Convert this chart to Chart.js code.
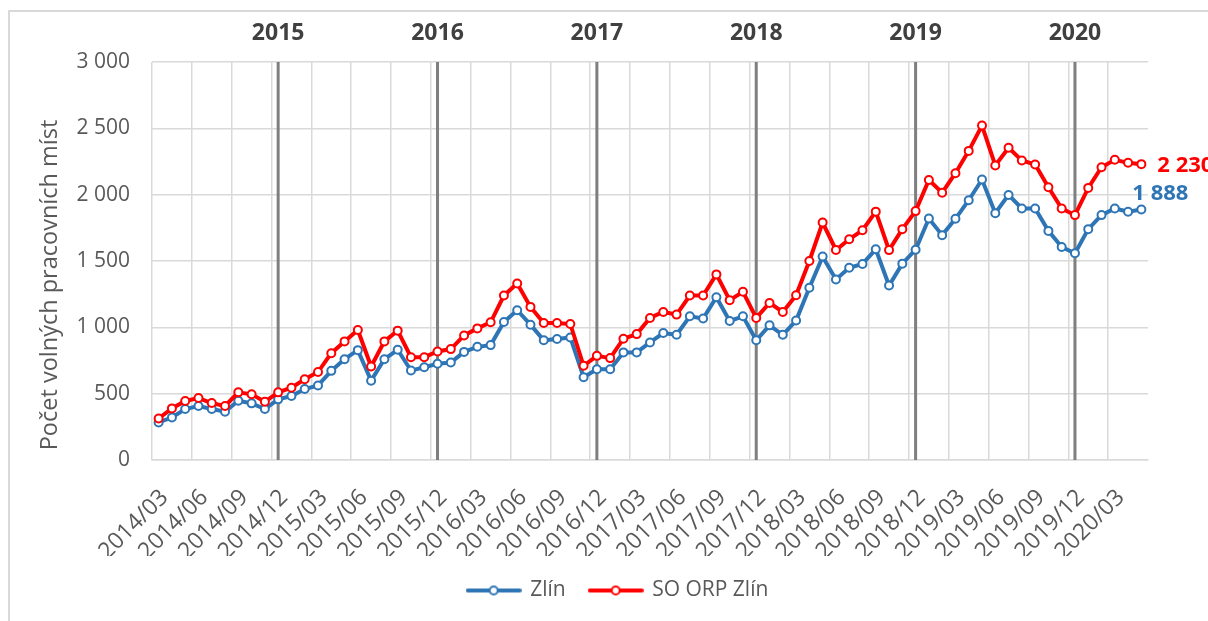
<!DOCTYPE html>
<html lang="cs">
<head>
<meta charset="utf-8">
<title>Počet volných pracovních míst</title>
<script src="https://cdn.jsdelivr.net/npm/chart.js@4.4.1/dist/chart.umd.min.js"></script>
<style>
  html, body { margin: 0; padding: 0; background: #fff; }
  #graf { display: block; }
</style>
</head>
<body>
<canvas id="graf" width="1208" height="621"></canvas>
<script>
// měsíce 2014/03 – 2020/05
const mesice = [
  '2014/03','2014/04','2014/05','2014/06','2014/07','2014/08','2014/09','2014/10','2014/11','2014/12',
  '2015/01','2015/02','2015/03','2015/04','2015/05','2015/06','2015/07','2015/08','2015/09','2015/10','2015/11','2015/12',
  '2016/01','2016/02','2016/03','2016/04','2016/05','2016/06','2016/07','2016/08','2016/09','2016/10','2016/11','2016/12',
  '2017/01','2017/02','2017/03','2017/04','2017/05','2017/06','2017/07','2017/08','2017/09','2017/10','2017/11','2017/12',
  '2018/01','2018/02','2018/03','2018/04','2018/05','2018/06','2018/07','2018/08','2018/09','2018/10','2018/11','2018/12',
  '2019/01','2019/02','2019/03','2019/04','2019/05','2019/06','2019/07','2019/08','2019/09','2019/10','2019/11','2019/12',
  '2020/01','2020/02','2020/03','2020/04','2020/05'
];

const zlin = [
  283, 320, 384, 407, 384, 364, 447, 427, 384, 457,
  482, 535, 562, 672, 760, 828, 598, 760, 831, 674, 699, 725,
  735, 815, 853, 866, 1040, 1129, 1020, 902, 912, 924, 624, 684,
  684, 811, 811, 886, 957, 944, 1083, 1066, 1227, 1048, 1083, 902,
  1015, 944, 1051, 1298, 1533, 1361, 1449, 1478, 1588, 1315, 1480, 1585,
  1820, 1695, 1818, 1958, 2114, 1860, 1998, 1896, 1896, 1727, 1606, 1558,
  1740, 1846, 1896, 1871, 1888
];

const soOrpZlin = [
  313, 389, 445, 467, 429, 407, 510, 495, 439, 510,
  545, 609, 663, 805, 894, 980, 705, 894, 975, 775, 775, 818,
  836, 939, 992, 1038, 1240, 1331, 1154, 1033, 1033, 1025, 710, 785,
  768, 914, 949, 1071, 1116, 1096, 1240, 1240, 1399, 1205, 1268, 1071,
  1184, 1116, 1242, 1500, 1790, 1583, 1664, 1732, 1872, 1582, 1740, 1876,
  2111, 2015, 2162, 2330, 2521, 2220, 2354, 2258, 2227, 2056, 1896, 1846,
  2051, 2207, 2263, 2240, 2230
];

// svislé čáry na přelomu roku a popisky let nad nimi
const predelMesice = ['2014/12', '2015/12', '2016/12', '2017/12', '2018/12', '2019/12'];
const roky = ['2015', '2016', '2017', '2018', '2019', '2020'];

const nazevOsyY = 'Počet volných pracovních míst';

const MODRA = '#2E75B6';
const CERVENA = '#FF0000';
const SEDA_TEXT = '#595959';
const MRIZKA = '#D9D9D9';

Chart.defaults.font.family = "'Open Sans', 'Noto Sans', sans-serif";
Chart.defaults.color = SEDA_TEXT;

const tisice = v => String(v).replace(/\B(?=(\d{3})+(?!\d))/g, ' ');

// symbol do legendy: čára s kolečkem uprostřed
function znacka(barva) {
  const c = document.createElement('canvas');
  c.width = 56; c.height = 14;
  const g = c.getContext('2d');
  g.strokeStyle = barva;
  g.lineWidth = 4;
  g.lineCap = 'round';
  g.beginPath(); g.moveTo(2, 7); g.lineTo(54, 7); g.stroke();
  g.fillStyle = '#fff';
  g.lineWidth = 2;
  g.beginPath(); g.arc(28, 7, 4, 0, Math.PI * 2); g.fill(); g.stroke();
  return c;
}

const ramecek = {
  id: 'ramecek',
  beforeDraw(chart) {
    const g = chart.ctx;
    g.save();
    g.fillStyle = '#fff';
    g.fillRect(0, 0, chart.width, chart.height);
    g.strokeStyle = MRIZKA;
    g.lineWidth = 2;
    g.beginPath();
    g.moveTo(9, chart.height + 2);
    g.lineTo(9, 11);
    g.lineTo(chart.width + 2, 11);
    g.stroke();
    g.restore();
  }
};

// legenda posunutá ke středu rámečku
const posunLegendy = {
  id: 'posunLegendy',
  afterLayout(chart) {
    chart.legend.left += 44;
    chart.legend.right += 44;
  }
};

const popisky = {
  id: 'popisky',
  afterDraw(chart) {
    const g = chart.ctx;
    const x = chart.scales.x;
    const y = chart.scales.y;
    g.save();
    // název osy y, trochu pod středem osy
    g.font = "23.5px 'Open Sans', sans-serif";
    g.fillStyle = SEDA_TEXT;
    g.textAlign = 'center';
    g.textBaseline = 'middle';
    g.translate(50, (y.top + y.bottom) / 2 + 24);
    g.rotate(-Math.PI / 2);
    g.fillText(nazevOsyY, 0, 0);
    g.setTransform(1, 0, 0, 1, 0, 0);
    // roky nad grafem
    g.font = "bold 23px 'Open Sans', sans-serif";
    g.fillStyle = '#404040';
    predelMesice.forEach((m, i) => {
      g.fillText(roky[i], x.getPixelForValue(mesice.indexOf(m)), 33);
    });
    // hodnoty posledního měsíce
    const posl = mesice.length - 1;
    const bCerv = chart.getDatasetMeta(1).data[posl];
    const bModr = chart.getDatasetMeta(0).data[posl];
    g.font = "bold 22px 'Open Sans', sans-serif";
    g.textAlign = 'left';
    g.fillStyle = CERVENA;
    g.fillText(tisice(soOrpZlin[posl]), bCerv.x + 16, bCerv.y + 2);
    g.fillStyle = MODRA;
    g.fillText(tisice(zlin[posl]), bModr.x - 9, bModr.y - 16);
    g.restore();
  }
};

const predely = predelMesice.map(m => ({
  type: 'line',
  data: [{ x: m, y: 0 }, { x: m, y: 3000 }],
  borderColor: '#7F7F7F',
  borderWidth: 3,
  pointRadius: 0,
  order: 3
}));

new Chart(document.getElementById('graf'), {
  type: 'line',
  data: {
    labels: mesice,
    datasets: [
      {
        label: 'Zlín',
        data: zlin,
        borderColor: MODRA,
        backgroundColor: MODRA,
        borderWidth: 4,
        pointRadius: 4,
        pointBorderWidth: 2,
        pointBackgroundColor: '#fff',
        pointBorderColor: MODRA,
        tension: 0,
        order: 2
      },
      {
        label: 'SO ORP Zlín',
        data: soOrpZlin,
        borderColor: CERVENA,
        backgroundColor: CERVENA,
        borderWidth: 4,
        pointRadius: 4,
        pointBorderWidth: 2,
        pointBackgroundColor: '#fff',
        pointBorderColor: CERVENA,
        tension: 0,
        order: 1
      },
      ...predely
    ]
  },
  options: {
    responsive: false,
    animation: false,
    layout: { padding: { top: 62, right: 60, left: 0, bottom: 10 } },
    scales: {
      x: {
        offset: true,
        afterFit: s => { s.height = 96; },
        grid: {
          offset: true,
          drawTicks: false,
          lineWidth: 1.5,
          color: c => (c.index % 3 === 0 ? MRIZKA : 'rgba(0,0,0,0)')
        },
        border: { color: MRIZKA, width: 1.5 },
        ticks: {
          autoSkip: false,
          minRotation: 45,
          maxRotation: 45,
          padding: 24,
          labelOffset: 6,
          font: { size: 23 },
          color: SEDA_TEXT,
          callback: (v, i) => (i % 3 === 0 ? mesice[i] : '')
        }
      },
      y: {
        min: 0,
        max: 3000,
        afterFit: s => { s.width = 152; },
        grid: { color: MRIZKA, lineWidth: 1.5, drawTicks: false },
        border: { display: false },
        ticks: {
          stepSize: 500,
          padding: 22,
          font: { size: 21 },
          color: SEDA_TEXT,
          callback: v => tisice(v)
        }
      }
    },
    plugins: {
      tooltip: { enabled: false },
      legend: {
        position: 'bottom',
        labels: {
          usePointStyle: true,
          pointStyleWidth: 52,
          padding: 24,
          font: { size: 21 },
          color: SEDA_TEXT,
          filter: item => item.datasetIndex < 2,
          sort: (a, b) => a.datasetIndex - b.datasetIndex,
          generateLabels: chart => chart.data.datasets.map((ds, i) => ({
            text: ds.label || '',
            datasetIndex: i,
            pointStyle: znacka(ds.borderColor),
            fontColor: SEDA_TEXT,
            strokeStyle: ds.borderColor,
            fillStyle: ds.borderColor,
            lineWidth: 0,
            hidden: false
          }))
        }
      }
    }
  },
  plugins: [ramecek, posunLegendy, popisky]
});
</script>
</body>
</html>
